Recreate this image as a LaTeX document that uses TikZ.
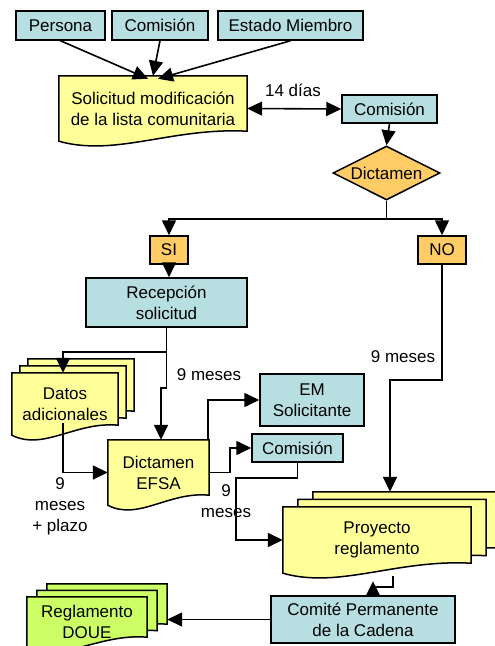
\documentclass[tikz,border=0pt]{standalone}
\usepackage{fontspec}
\setmainfont{Liberation Sans}
\usetikzlibrary{arrows.meta,calc,shapes.geometric,backgrounds}
\definecolor{procblue}{RGB}{183,223,226}
\definecolor{docyellow}{RGB}{255,255,153}
\definecolor{decorange}{RGB}{255,204,102}
\definecolor{outgreen}{RGB}{204,255,102}
% document outline with wavy bottom, shifted by (#2,#3)
\newcommand{\docwave}[4]{%
  \draw[#4] ($(#1.north west)+(#2,#3)$) -- ($(#1.south west)+(#2,#3)$)
    .. controls ($(#1.south west)!0.3!(#1.south east)+(#2,#3)+(0,-16)$)
    and ($(#1.south west)!0.6!(#1.south east)+(#2,#3)+(0,14)$)
    .. ($(#1.south east)+(#2,#3)+(0,10)$) -- ($(#1.north east)+(#2,#3)$) -- cycle;}
\newcommand{\docstack}[4]{%
  \docwave{#1}{2*#2}{2*#3}{#4}\docwave{#1}{#2}{#3}{#4}\docwave{#1}{0}{0}{#4}}

\begin{document}
\begin{tikzpicture}[x=1pt,y=1pt,font=\fontsize{17}{21}\selectfont,
    >={Triangle[length=15pt,width=14pt]},
    proc/.style={draw, fill=procblue, line width=1.5pt, inner sep=0pt, align=center},
    doc/.style={inner sep=0pt, align=center},
    docline/.style={draw, line width=1.5pt, fill=#1},
    dec/.style={draw, fill=decorange, line width=1.5pt, inner sep=0pt, align=center},
    arr/.style={line width=1.6pt, ->}]
  \useasboundingbox (0,0) rectangle (495,-646);
  \node[proc, minimum width=89pt, minimum height=29pt] (persona) at (60.5,-25.5) {Persona};
  \node[proc, minimum width=96pt, minimum height=29pt] (comtop) at (160,-25.5) {Comisión};
  \node[proc, minimum width=145pt, minimum height=29pt] (estado) at (290.5,-25.5) {Estado Miembro};
  \node[doc, minimum width=188pt, minimum height=65pt] (solicitud) at (153,-108.5)
    {Solicitud modificación\\de la lista comunitaria};
  \node[proc, minimum width=95pt, minimum height=28pt] (comA) at (389.5,-109) {Comisión};
  \node[dec, diamond, aspect=2, minimum width=107pt, minimum height=54pt] (dictamen) at (386.5,-173) {Dictamen};
  \node[dec, minimum width=38pt, minimum height=28pt] (si) at (169,-250) {SI};
  \node[dec, minimum width=48pt, minimum height=28pt] (no) at (442,-250) {NO};
  \node[proc, minimum width=161pt, minimum height=49pt] (recepcion) at (166.5,-302.5) {Recepción\\solicitud};
  \node[doc, minimum width=106pt, minimum height=62pt] (datos) at (65,-404) {Datos\\adicionales};
  \node[doc, minimum width=101pt, minimum height=65pt] (efsa) at (158.5,-472.5) {Dictamen\\EFSA};
  \node[proc, minimum width=104pt, minimum height=52pt] (emsol) at (312,-400) {EM\\Solicitante};
  \node[proc, minimum width=91pt, minimum height=28pt] (comB) at (297.5,-448) {Comisión};
  \node[doc, minimum width=188pt, minimum height=66pt] (proyecto) at (377,-540) {Proyecto\\reglamento};
  \node[proc, minimum width=184pt, minimum height=47pt] (comite) at (363,-619.5) {Comité Permanente\\de la Cadena};
  \node[doc, minimum width=120pt, minimum height=50pt] (reglamento) at (87,-622) {Reglamento\\DOUE};
  \node (dias) at (293,-90) {14 días};
  \node (mesesA) at (209,-375) {9 meses};
  \node (mesesB) at (403,-357) {9 meses};
  \node[align=center] (mesesC) at (60,-506) {9\\meses\\+ plazo};
  \node[align=center] (mesesD) at (226,-501) {9\\meses};
  \begin{pgfonlayer}{background}
    \docwave{solicitud}{0}{0}{docline=docyellow}
    \docwave{efsa}{0}{0}{docline=docyellow}
    \docstack{datos}{8}{7}{docline=docyellow}
    \docstack{proyecto}{15}{7.5}{docline=docyellow}
    \docstack{reglamento}{10}{6.5}{docline=outgreen}
  \end{pgfonlayer}
  \draw[arr] (persona.south) -- ([xshift=-5pt,yshift=-3pt]solicitud.north);
  \draw[arr] (comtop.south) -- (solicitud.north);
  \draw[arr] (estado.south) -- ([xshift=5pt,yshift=-3pt]solicitud.north);
  \draw[arr, <->] (solicitud.east) -- (comA.west);
  \draw[arr] (comA.south) -- (dictamen.north);
  \draw[arr] (dictamen.south) -- ++(0,-18) -| (si.north);
  \draw[arr] (dictamen.south) -- ++(0,-18) -| (no.north);
  \draw[arr] (si.south) -- (si.south |- recepcion.north);
  \draw[arr] (recepcion.south) -- ++(0,-24) -| ([xshift=-2pt]datos.north);
  \draw[arr] (recepcion.south) -- ++(0,-60) -| ([xshift=2.5pt]efsa.north);
  \draw[arr] ([xshift=-2pt,yshift=12pt]datos.south) |- (efsa.west);
  \draw[arr] ([xshift=-1pt]efsa.north east) |- (emsol.west);
  \draw[arr] (efsa.east) -- ++(21,0) |- (comB.west);
  \draw[arr] (comB.south) -- ++(0,-15) -| ($(proyecto.west)+(-47,0)$) -- (proyecto.west);
  \draw[arr] (no.south) -- ++(0,-115) -| ($(proyecto.north)+(13,15)$);
  \draw[line width=1.6pt] ($(proyecto.south)+(16,-3)$) -- ++(0,-11) -| ([xshift=10pt]comite.north);
  \fill ([xshift=3pt]comite.north) -- ([xshift=17pt]comite.north) -- ([xshift=10pt,yshift=14pt]comite.north) -- cycle;
  \draw[arr] (comite.west) -- ($(comite.west -| reglamento.east)+(20,0)$);
\end{tikzpicture}
\end{document}
